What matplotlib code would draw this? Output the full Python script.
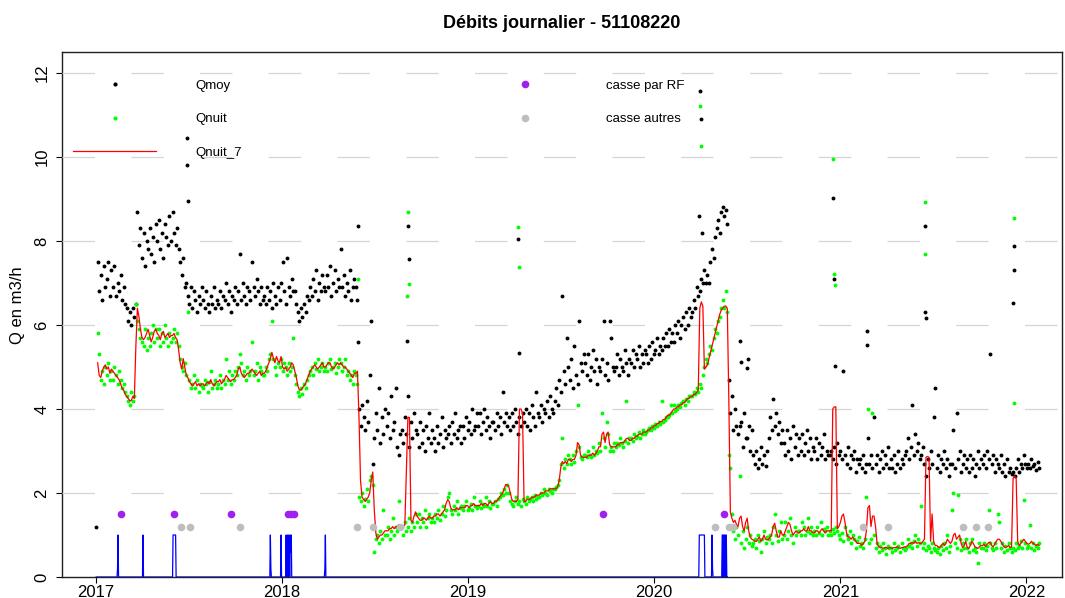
import numpy as np
import pandas as pd
import matplotlib
matplotlib.use("Agg")
import matplotlib.pyplot as plt
import matplotlib.dates as mdates
from matplotlib.lines import Line2D

plt.rcParams["font.family"] = ["Liberation Sans", "DejaVu Sans"]

nan = np.nan

# debits journaliers, un releve tous les 3 jours a partir du 01/01/2017
qmoy = [
    1.2, 7.5, 6.8, 7.2, 6.6, 7.4, 6.9, 7.1, 7.5, 6.7,
    7.3, 6.9, 7.4, 6.7, 7.0, 6.8, 7.2, 6.6, 6.9, 6.5,
    6.4, 6.1, 6.3, 6.0, 6.4, 6.2, 6.5, 8.7, 7.9, 8.3,
    7.6, 8.2, 7.4, 8.0, 7.8, 8.3, 7.7, 8.1, 7.5, 8.4,
    8.0, 8.5, 7.8, 8.2, 7.6, 8.4, 8.1, 7.9, 8.6, 8.0,
    8.7, 8.2, 7.9, 8.3, 7.8, 7.5, 7.2, 7.6, 6.9, 7.0,
    6.7, 6.5, 6.9, 6.4, 6.8, 6.6, 6.3, 6.7, 6.5, 6.9,
    6.6, 6.4, 6.8, 6.5, 6.3, 6.7, 6.5, 6.9, 6.4, 6.6,
    6.5, 6.8, 6.4, 6.7, 6.6, 7.0, 6.5, 6.8, 6.3, 6.7,
    6.6, 6.9, 6.5, 6.8, 7.7, 6.6, 7.0, 6.7, 6.5, 6.9,
    6.8, 6.6, 7.5, 6.9, 6.7, 7.1, 6.8, 6.5, 6.9, 6.6,
    6.7, 6.5, 6.9, 6.6, 6.8, 6.4, 7.0, 6.7, 6.5, 6.9,
    6.6, 7.0, 7.5, 6.8, 6.5, 7.6, 6.9, 6.7, 7.1, 6.8,
    6.8, 6.5, 6.3, 6.1, 6.4, 6.2, 6.5, 6.3, 6.7, 6.6,
    6.9, 6.7, 7.1, 6.8, 7.3, 6.6, 7.0, 6.8, 7.2, 6.9,
    6.8, 7.2, 6.9, 7.4, 6.7, 7.0, 7.3, 6.8, 7.1, 6.9,
    7.8, 6.9, 7.2, 6.7, 7.0, 6.8, 7.3, 6.6, 6.9, 7.1,
    6.9, 6.6, 4.0, 3.6, 4.1, 3.8, 3.5, 4.2, 3.7, 4.8,
    6.1, 2.7, 3.3, 3.9, 3.5, 4.5, 3.2, 3.8, 3.4, 4.0,
    3.6, 3.9, 3.3, 4.3, 3.5, 3.7, 4.5, 3.1, 2.9, 3.4,
    3.5, 3.2, 3.8, 3.4, 4.3, 3.1, 3.7, 3.3, 3.9, 3.5,
    3.4, 3.1, 3.7, 3.2, 3.5, 3.0, 3.6, 3.3, 3.9, 3.2,
    3.5, 3.3, 3.0, 3.6, 3.2, 3.4, 3.8, 3.1, 3.5, 3.3,
    3.4, 3.6, 3.2, 3.7, 3.4, 3.9, 3.3, 3.5, 3.6, 3.2,
    3.6, 3.3, 3.8, 3.5, 3.7, 3.4, 4.0, 3.5, 3.6, 3.9,
    3.6, 3.9, 3.4, 3.7, 4.0, 3.5, 3.8, 3.6, 3.3, 3.7,
    3.7, 3.5, 3.9, 3.6, 3.8, 3.4, 4.4, 3.7, 3.9, 3.6,
    3.8, 3.5, 3.9, 3.6, 4.0, 3.7, 3.4, 3.8, 3.6, 3.9,
    3.7, 4.0, 3.6, 3.9, 3.5, 4.1, 3.8, 3.6, 4.4, 3.9,
    3.8, 4.1, 3.7, 4.0, 3.9, 4.2, 3.8, 4.3, 4.0, 3.9,
    4.2, 4.5, 4.1, 4.7, 4.4, 6.7, 4.9, 4.6, 5.7, 5.0,
    4.7, 5.2, 4.5, 5.5, 4.8, 4.6, 6.1, 5.1, 4.9, 5.3,
    5.1, 4.8, 5.3, 4.7, 5.0, 5.4, 4.9, 5.2, 4.6, 5.0,
    4.9, 5.2, 6.1, 4.8, 5.1, 4.7, 6.1, 5.7, 5.0, 4.9,
    5.0, 5.3, 4.8, 5.2, 5.0, 4.9, 5.4, 5.1, 4.8, 5.2,
    5.1, 5.4, 5.0, 5.3, 5.2, 5.5, 5.0, 5.3, 5.1, 5.4,
    5.3, 5.1, 5.5, 5.2, 5.6, 5.3, 5.4, 5.7, 5.3, 5.5,
    5.4, 5.7, 5.5, 5.8, 5.5, 5.9, 5.6, 5.8, 5.6, 6.0,
    5.8, 6.1, 5.7, 6.0, 6.2, 5.9, 6.3, 6.0, 6.4, 6.2,
    6.3, 6.6, 6.4, 6.9, 6.7, 6.8, 7.1, 7.0, 7.3, 7.0,
    7.2, 7.0, 7.5, 7.8, 7.6, 8.1, 8.3, 8.5, 8.2, 8.7,
    8.8, 8.6, 8.75, 8.4, 4.7, 3.9, 4.3, 3.5, 4.0, 3.6,
    3.4, 3.6, 3.7, 3.1, 3.9, 3.3, 3.3, 3.6, 3.0, 3.5,
    2.9, 2.7, 3.0, 2.6, 2.8, 3.1, 2.7, 2.9, 2.65, 3.0,
    3.3, 3.8, 3.5, 4.25, 3.6, 3.9, 3.4, 3.7, 3.2, 3.5,
    3.2, 2.9, 3.5, 3.0, 3.3, 2.8, 3.6, 3.1, 3.4, 2.9,
    3.3, 3.0, 3.4, 2.9, 3.2, 3.5, 3.0, 3.3, 2.8, 3.1,
    3.0, 3.3, 2.8, 3.2, 2.9, 3.1, 3.4, 2.8, 3.0, 2.9,
    2.9, 3.0, 2.8, 3.1, 2.7, 3.2, 2.9, 3.0, 2.8, 4.9,
    2.9, 2.7, 3.1, 2.6, 2.9, 2.8, 3.0, 2.5, 2.8, 2.7,
    2.8, 2.6, 2.9, 2.5, 2.7, 3.3, 2.7, 2.9, 2.6, 3.8,
    2.7, 2.9, 2.5, 2.8, 3.0, 2.6, 2.9, 2.7, 3.1, 2.6,
    2.8, 2.6, 2.9, 2.5, 2.7, 3.0, 2.6, 2.8, 2.7, 2.9,
    3.0, 3.3, 2.8, 3.1, 4.1, 2.9, 3.4, 3.0, 3.2, 2.8,
    2.9, 3.1, 2.7, 2.4, 2.8, 2.6, 3.0, 2.7, 3.8, 4.5,
    2.6, 2.9, 2.5, 2.8, 2.7, 3.0, 2.6, 2.8, 2.4, 2.7,
    2.7, 3.5, 2.6, 3.9, 2.8, 3.0, 2.5, 2.7, 2.9, 2.6,
    2.8, 2.5, 2.9, 2.6, 2.8, 2.4, 2.7, 3.0, 2.6, 2.8,
    2.7, 2.9, 2.6, 3.0, 2.8, 5.3, 2.7, 2.9, 2.5, 2.8,
    2.7, 2.6, 2.9, 2.5, 2.7, 2.4, 2.8, 2.5, 2.6, 2.45,
    2.5, 2.4, 2.6, 2.8, 2.5, 2.7, 2.6, 2.9, 2.7, 2.6,
    2.7, 2.6, 2.8, 2.65, 2.7, 2.55, 2.75, 2.6,
]

qnuit = [
    nan, 5.8, 5.3, 4.7, 4.9, 4.6, 5.0, 4.8, 5.1, 4.7,
    4.9, 4.7, 5.0, 4.8, 4.6, 4.9, 4.7, 4.5, 4.6, 4.4,
    4.3, 4.2, 4.1, 4.4, 4.2, 4.3, 6.5, 6.1, 5.9, 5.7,
    5.6, 5.5, 5.9, 5.4, 5.7, 5.5, 5.8, 6.0, 5.6, 5.9,
    5.7, 5.9, 5.5, 5.8, 5.6, 6.0, 5.7, 5.5, 5.8, 5.6,
    5.7, 5.9, 5.6, 5.8, 5.5, 5.2, 5.0, 4.9, 5.1, 4.8,
    6.3, 4.7, 4.5, 4.6, 4.8, 4.5, 4.7, 4.4, 4.6, 4.55,
    4.5, 4.7, 4.6, 4.4, 4.65, 4.9, 4.5, 4.6, 4.7, 4.5,
    4.6, 4.8, 4.5, 4.7, 4.6, 5.2, 4.7, 4.9, 4.6, 4.8,
    4.7, 4.9, 4.8, 5.0, 5.3, 5.1, 4.8, 4.9, 4.7, 5.0,
    4.8, 4.9, 5.6, 4.8, 4.9, 5.1, 4.7, 5.0, 4.9, 4.8,
    4.8, 5.0, 4.9, 5.2, 5.3, 6.1, 5.2, 5.0, 4.8, 5.1,
    5.0, 5.2, 4.9, 5.1, 5.0, 4.8, 5.1, 4.9, 5.0, 5.7,
    4.8, 4.6, 4.4, 4.3, 4.5, 4.35, 4.6, 4.5, 4.7, 4.8,
    4.9, 5.0, 4.8, 5.1, 4.95, 5.2, 4.9, 5.0, 5.1, 4.9,
    5.0, 4.9, 5.1, 5.2, 4.95, 5.0, 5.1, 4.85, 5.0, 5.2,
    5.1, 4.9, 5.0, 5.2, 4.8, 4.9, 4.7, 4.8, 4.6, 4.9,
    4.8, 4.6, 1.9, 1.8, 2.0, 1.7, 1.85, 2.1, 1.8, 2.3,
    2.4, 2.2, 0.6, 0.9, 1.0, 0.8, 1.1, 0.9, 1.6, 1.0,
    1.0, 1.2, 0.9, 1.1, 1.4, 1.0, 1.2, 1.1, 1.8, 1.2,
    1.2, 1.0, 1.3, 1.1, 1.2, 1.4, 1.1, 1.3, 1.2, 1.5,
    1.3, 1.5, 1.2, 1.4, 1.3, 1.6, 1.2, 1.4, 1.5, 1.3,
    1.4, 1.3, 1.5, 1.4, 1.6, 1.35, 1.5, 1.7, 1.45, 1.6,
    1.9, 2.0, 1.6, 1.5, 1.7, 1.6, 1.8, 1.5, 1.65, 1.7,
    1.6, 1.7, 1.8, 1.6, 1.65, 1.75, 1.6, 1.9, 1.7, 1.65,
    1.7, 1.8, 1.65, 1.75, 1.7, 1.9, 1.7, 1.8, 1.65, 1.75,
    1.75, 1.8, 1.7, 1.85, 1.9, 2.0, 1.95, 2.1, 2.0, 2.2,
    2.0, 1.8, 1.75, 1.7, 1.8, 1.9, 1.75, 1.8, 1.7, 1.85,
    1.8, 1.75, 1.9, 1.8, 1.85, 1.9, 1.8, 1.95, 1.85, 1.9,
    1.9, 2.0, 1.95, 2.1, 2.0, 1.95, 2.1, 2.05, 2.0, 2.1,
    2.1, 2.15, 2.2, 2.3, 2.7, 3.3, 2.6, 2.8, 2.7, 2.9,
    2.8, 2.7, 2.9, 2.75, 3.0, 4.1, 3.1, 2.85, 2.8, 2.9,
    2.9, 2.85, 3.0, 2.9, 2.85, 3.1, 2.9, 3.0, 2.95, 3.2,
    3.0, 3.9, 3.3, 3.1, 3.7, 3.4, 3.0, 3.1, 3.0, 3.2,
    3.1, 3.2, 3.15, 3.3, 3.2, 3.1, 3.25, 4.2, 3.2, 3.3,
    3.3, 3.25, 3.4, 3.3, 3.35, 3.45, 3.3, 3.4, 3.5, 3.4,
    3.45, 3.5, 3.55, 3.5, 3.6, 3.55, 3.65, 3.6, 3.7, 3.65,
    4.2, 3.7, 3.75, 3.8, 3.8, 3.85, 4.1, 3.9, 4.1, 3.95,
    4.0, 4.1, 4.05, 4.15, 4.2, 4.1, 4.25, 4.2, 4.3, 4.3,
    4.3, 4.4, 4.35, 4.5, 4.4, 4.6, 4.5, 4.8, 5.0, 5.2,
    5.1, 5.3, 5.5, 5.4, 5.7, 5.9, 5.8, 6.1, 6.2, 6.4,
    6.6, 6.4, 6.8, 6.3, 2.9, 2.6, 1.5, 1.1, 0.9, 1.2,
    1.0, 2.4, 0.8, 1.1, 0.7, 0.9, 1.2, 0.8, 1.0, 0.75,
    0.8, 0.9, 0.7, 1.0, 0.85, 0.6, 0.9, 1.1, 0.8, 0.95,
    0.9, 1.0, 0.8, 1.2, 1.5, 1.0, 0.85, 1.1, 1.3, 0.9,
    1.0, 1.3, 0.9, 1.1, 1.4, 1.0, 0.8, 1.2, 1.0, 1.1,
    1.1, 1.0, 1.3, 1.2, 1.0, 1.1, 1.4, 1.05, 1.2, 1.0,
    1.1, 1.0, 1.2, 1.05, 1.3, 1.0, 1.15, 1.1, 1.2, 1.0,
    1.1, 1.0, 1.15, 1.05, 1.2, 1.1, 1.0, 0.9, 1.05, 0.85,
    1.2, 1.0, 0.9, 1.1, 0.8, 1.0, 0.9, 0.7, 0.85, 0.95,
    0.75, 0.8, 0.7, 0.9, 1.9, 4.0, 0.8, 0.9, 3.9, 1.0,
    0.7, 0.8, 0.6, 0.75, 0.65, 0.8, 0.7, 0.55, 0.75, 0.7,
    0.7, 0.6, 0.8, 0.65, 0.7, 0.75, 0.6, 0.8, 0.7, 0.65,
    0.7, 0.9, 0.75, 0.8, 0.7, 0.85, 1.0, 0.75, 0.9, 0.8,
    1.7, 0.7, 0.8, 0.65, 0.75, 0.7, 0.6, 0.8, 0.7, 0.65,
    0.6, 0.7, 0.55, 0.75, 0.65, 0.8, 0.7, 1.0, 0.6, 0.75,
    1.6, 2.0, 0.8, 0.7, 1.96, 0.9, 0.65, 0.8, 0.7, 0.9,
    0.7, 0.6, 0.8, 0.9, 0.65, 0.7, 0.6, 0.33, 0.8, 0.7,
    0.7, 0.8, 0.65, 0.75, 1.6, 0.8, 0.7, 0.65, 0.8, 0.7,
    1.5, 1.3, 0.7, 0.8, 0.6, 0.75, 0.65, 0.8, 0.7, 0.6,
    0.7, 0.65, 0.8, 0.7, 0.75, 0.85, 0.7, 1.84, 0.8, 0.7,
    0.75, 1.25, 0.7, 0.8, 0.65, 0.75, 0.7, 0.8,
]

qnuit_7 = [
    nan, 5.1, 4.8, 4.75, 4.9, 5.0, 5.05, 4.95, 5.0, 4.85,
    4.95, 4.9, 4.85, 4.8, 4.75, 4.7, 4.6, 4.5, 4.45, 4.35,
    4.3, 4.25, 4.2, 4.2, 4.3, 4.25, 5.5, 6.4, 6.2, 5.9,
    5.7, 5.65, 5.7, 5.8, 5.9, 5.75, 5.6, 5.7, 5.85, 5.9,
    5.8, 5.75, 5.65, 5.8, 5.85, 5.7, 5.75, 5.8, 5.7, 5.75,
    5.75, 5.8, 5.7, 5.65, 5.4, 5.1, 4.95, 5.2, 5.0, 4.8,
    4.75, 4.65, 4.6, 4.55, 4.6, 4.65, 4.55, 4.6, 4.55, 4.6,
    4.6, 4.55, 4.6, 4.65, 4.6, 4.7, 4.6, 4.55, 4.6, 4.65,
    4.65, 4.7, 4.6, 4.65, 4.7, 4.8, 4.75, 4.7, 4.65, 4.7,
    4.7, 4.75, 4.8, 4.95, 5.0, 4.85, 4.8, 4.75, 4.8, 4.85,
    4.85, 4.9, 4.95, 4.9, 4.85, 4.8, 4.85, 4.9, 4.8, 4.85,
    4.85, 4.9, 5.0, 5.1, 5.2, 5.35, 5.2, 5.1, 5.25, 5.15,
    5.1, 5.25, 5.0, 4.95, 5.0, 4.9, 4.95, 5.0, 5.1, 5.05,
    4.9, 4.75, 4.55, 4.45, 4.45, 4.5, 4.55, 4.6, 4.7, 4.8,
    4.9, 4.95, 5.0, 5.05, 5.0, 4.95, 5.0, 5.05, 5.1, 5.0,
    5.0, 5.05, 5.1, 5.1, 5.0, 4.95, 5.0, 5.05, 5.1, 5.05,
    5.1, 5.05, 5.0, 5.0, 4.95, 4.9, 4.85, 4.8, 4.75, 4.85,
    4.85, 4.9, 3.8, 2.3, 1.9, 1.85, 1.8, 1.85, 1.9, 2.0,
    2.3, 2.5, 1.6, 1.05, 0.9, 0.95, 1.0, 1.0, 1.05, 1.1,
    1.1, 1.1, 1.15, 1.15, 1.2, 1.15, 1.2, 1.2, 1.25, 1.2,
    1.2, 1.2, 1.25, 2.5, 3.8, 3.8, 1.35, 1.3, 1.45, 1.55,
    1.45, 1.4, 1.35, 1.35, 1.4, 1.4, 1.35, 1.4, 1.45, 1.4,
    1.4, 1.45, 1.45, 1.5, 1.5, 1.45, 1.5, 1.55, 1.6, 1.75,
    1.84, 1.8, 1.65, 1.6, 1.6, 1.6, 1.65, 1.6, 1.65, 1.65,
    1.65, 1.65, 1.7, 1.7, 1.65, 1.7, 1.7, 1.75, 1.7, 1.7,
    1.7, 1.7, 1.75, 1.7, 1.75, 1.75, 1.7, 1.75, 1.8, 1.75,
    1.75, 1.8, 1.8, 1.85, 1.9, 1.95, 2.0, 2.1, 2.2, 2.2,
    2.15, 2.0, 1.85, 1.8, 1.8, 1.8, 1.85, 4.0, 4.0, 3.9,
    1.8, 1.8, 1.85, 1.85, 1.85, 1.9, 1.9, 1.9, 1.95, 1.95,
    1.95, 2.0, 2.0, 2.0, 2.05, 2.05, 2.05, 2.1, 2.1, 2.1,
    2.1, 2.1, 2.15, 2.3, 2.6, 2.75, 2.7, 2.75, 2.7, 2.8,
    2.8, 2.75, 2.8, 2.8, 2.9, 3.2, 3.15, 2.9, 2.85, 2.85,
    2.85, 2.85, 2.9, 2.9, 2.9, 2.95, 2.9, 2.95, 3.0, 3.1,
    3.1, 3.4, 3.45, 3.2, 3.4, 3.45, 3.15, 3.1, 3.1, 3.1,
    3.1, 3.15, 3.15, 3.2, 3.2, 3.2, 3.25, 3.3, 3.3, 3.25,
    3.25, 3.3, 3.3, 3.35, 3.35, 3.4, 3.4, 3.4, 3.45, 3.45,
    3.45, 3.5, 3.5, 3.55, 3.55, 3.6, 3.6, 3.65, 3.65, 3.7,
    3.7, 3.75, 3.75, 3.8, 3.85, 3.85, 3.9, 3.95, 4.0, 4.0,
    4.05, 4.05, 4.1, 4.1, 4.15, 4.15, 4.2, 4.25, 4.25, 4.3,
    4.3, 4.35, 4.35, 4.4, 4.45, 6.4, 6.55, 6.45, 4.95, 5.0,
    5.05, 5.2, 5.35, 5.5, 5.65, 5.8, 5.95, 6.1, 6.25, 6.35,
    6.4, 6.45, 6.45, 6.4, 4.2, 1.55, 1.4, 1.3, 1.35, 1.25,
    1.2, 1.4, 1.45, 1.2, 1.1, 1.3, 1.4, 1.1, 0.95, 0.9,
    0.88, 0.85, 0.85, 0.9, 0.95, 0.85, 0.9, 1.0, 0.9, 0.88,
    0.9, 0.95, 1.0, 1.2, 1.28, 1.1, 0.95, 0.95, 1.1, 1.0,
    1.0, 1.1, 1.2, 1.3, 1.25, 1.1, 1.0, 1.05, 1.1, 1.05,
    1.05, 1.1, 1.1, 1.15, 1.1, 1.1, 1.2, 1.1, 1.1, 1.05,
    1.05, 1.1, 1.1, 1.05, 1.1, 1.15, 1.1, 1.05, 1.1, 1.1,
    1.1, 1.1, 4.0, 4.05, 4.05, 1.15, 1.2, 1.3, 1.45, 1.5,
    1.3, 1.05, 0.95, 0.95, 0.9, 0.95, 0.9, 0.85, 0.8, 0.8,
    0.8, 0.75, 0.8, 0.85, 1.1, 1.65, 1.7, 1.2, 1.45, 1.45,
    1.2, 0.8, 0.72, 0.7, 0.7, 0.68, 0.7, 0.7, 0.68, 0.7,
    0.7, 0.68, 0.7, 0.7, 0.72, 0.7, 0.68, 0.7, 0.7, 0.72,
    0.72, 0.75, 0.8, 0.8, 0.82, 0.8, 0.85, 0.8, 0.82, 0.8,
    0.8, 0.85, 0.9, 2.85, 2.87, 2.85, 0.85, 1.5, 0.85, 0.75,
    0.75, 0.72, 0.7, 0.75, 0.8, 0.75, 0.8, 0.9, 0.85, 0.8,
    0.85, 1.0, 1.04, 0.9, 0.95, 1.0, 0.8, 0.7, 0.75, 0.85,
    0.7, 0.68, 0.75, 0.85, 0.8, 0.72, 0.7, 0.68, 0.72, 0.75,
    0.75, 0.78, 0.72, 0.78, 0.82, 0.83, 0.75, 0.72, 0.78, 0.85,
    0.9, 0.9, 0.85, 0.78, 0.72, 0.7, 0.72, 0.75, 0.7, 0.72,
    2.35, 2.4, 2.35, 0.85, 0.75, 0.8, 0.85, 0.9, 0.85, 0.8,
    0.78, 0.8, 0.85, 0.8, 0.78, 0.75, 0.78, 0.75,
]

# jours isoles a fort debit
pics_moy_dates = [
    "2017-06-28", "2017-06-29", "2017-07-01", "2018-05-30", "2018-05-31",
    "2018-09-04", "2018-09-06", "2018-09-07", "2019-04-10", "2019-04-11",
    "2020-03-30", "2020-04-01", "2020-04-02", "2020-04-04", "2020-06-18",
    "2020-06-19", "2020-07-01", "2020-07-03", "2020-12-18", "2020-12-19",
    "2020-12-21", "2021-02-22", "2021-02-23", "2021-06-16", "2021-06-17",
    "2021-06-19", "2021-12-05", "2021-12-07", "2021-12-08",
]
pics_moy = [
    10.45, 9.8, 8.95, 8.35, 5.6,
    5.62, 8.35, 7.56, 8.04, 5.33,
    8.59, 11.58, 10.9, 8.18, 5.62,
    5.12, 4.97, 5.2, 9.02, 7.1,
    5.02, 5.86, 5.53, 8.35, 6.3,
    6.17, 6.53, 7.87, 7.3,
]
pics_nuit_dates = [
    "2018-05-30", "2018-09-04", "2018-09-06", "2018-09-07", "2019-04-10",
    "2019-04-11", "2020-04-01", "2020-04-02", "2020-12-18", "2020-12-19",
    "2020-12-21", "2021-06-16", "2021-06-17", "2021-12-07", "2021-12-08",
]
pics_nuit = [
    7.1, 6.7, 8.7, 6.98, 8.33,
    7.37, 11.22, 10.26, 9.95, 7.22,
    6.96, 8.92, 7.68, 8.54, 4.14,
]

# casses
casse_rf_dates = [
    "2017-02-19", "2017-06-03", "2017-09-23", "2018-01-13",
    "2018-01-19", "2018-01-25", "2019-09-23", "2020-05-18",
]
casse_rf = [1.5, 1.5, 1.5, 1.5, 1.5, 1.5, 1.5, 1.5]
casse_autres_dates = [
    "2017-06-17", "2017-07-04", "2017-10-11", "2018-05-28", "2018-06-29",
    "2018-08-21", "2020-04-30", "2020-05-28", "2020-06-05", "2021-02-15",
    "2021-04-05", "2021-08-30", "2021-09-25", "2021-10-18",
]
casse_autres = [1.2] * len(casse_autres_dates)

# indicateur journalier (0 sauf les jours listes)
flag_dates = [
    "2017-02-12", "2017-02-13", "2017-04-03",
    "2017-06-01", "2017-06-02", "2017-06-03", "2017-06-04", "2017-06-05", "2017-06-06",
    "2017-12-09", "2017-12-10", "2017-12-30",
    "2018-01-09", "2018-01-11", "2018-01-12", "2018-01-14", "2018-01-15",
    "2018-01-17", "2018-01-18", "2018-01-19",
    "2018-03-26", "2018-03-27",
    "2020-03-30", "2020-03-31", "2020-04-01", "2020-04-02", "2020-04-03",
    "2020-04-04", "2020-04-05", "2020-04-06", "2020-04-07", "2020-04-08", "2020-04-09",
    "2020-04-24", "2020-04-25",
    "2020-05-14", "2020-05-15", "2020-05-17", "2020-05-19", "2020-05-20", "2020-05-22",
]
flag_values = [
    0.2, 1.0, 1.0,
    1.0, 1.0, 1.0, 1.0, 1.0, 1.0,
    1.0, 0.2, 1.0,
    1.0, 0.75, 1.0, 1.0, 0.65,
    1.0, 0.6, 1.0,
    0.2, 1.0,
    1.0, 1.0, 1.0, 1.0, 1.0,
    1.0, 1.0, 1.0, 1.0, 1.0, 1.0,
    1.0, 0.2,
    1.0, 1.0, 1.0, 1.0, 1.0, 1.0,
]

moy = pd.concat([
    pd.Series(qmoy, index=pd.date_range("2017-01-01", periods=len(qmoy), freq="3D")),
    pd.Series(pics_moy, index=pd.to_datetime(pics_moy_dates)),
]).sort_index()
nuit = pd.concat([
    pd.Series(qnuit, index=pd.date_range("2017-01-01", periods=len(qnuit), freq="3D")),
    pd.Series(pics_nuit, index=pd.to_datetime(pics_nuit_dates)),
]).sort_index()
nuit7 = pd.Series(qnuit_7, index=pd.date_range("2017-01-01", periods=len(qnuit_7), freq="3D"))

flag = pd.Series(0.0, index=pd.date_range("2017-01-01", "2020-05-24", freq="D"))
flag[pd.to_datetime(flag_dates)] = flag_values

fig = plt.figure(figsize=(10.65, 5.98), dpi=100)
ax = fig.add_axes([62 / 1065, 21 / 598, 1000 / 1065, 525 / 598])

ax.plot(moy.index, moy.values, "o", color="black", ms=2.8, mew=0, zorder=4)
ax.plot(nuit.index, nuit.values, "o", color="#00ff00", ms=2.8, mew=0, zorder=4)
ax.plot(nuit7.index, nuit7.values, color="red", lw=0.9, zorder=5)
ax.plot(flag.index, flag.values, color="blue", lw=0.9, zorder=5)
ax.plot(pd.to_datetime(casse_rf_dates), casse_rf, "o", color="#a020f0", ms=5.5, mew=0, zorder=6)
ax.plot(pd.to_datetime(casse_autres_dates), casse_autres, "o", color="#bebebe", ms=5.5, mew=0, zorder=6)

# grille horizontale en tirets
for y in range(0, 13, 2):
    ax.axhline(y, color="#d6d6d6", lw=0.9, linestyle=(0, (26, 29)), zorder=2.6)

ax.set_xlim(pd.Timestamp("2016-10-26"), pd.Timestamp("2022-03-12"))
ax.set_ylim(0, 12.5)
ax.set_yticks(range(0, 13, 2))
ax.xaxis.set_major_locator(mdates.YearLocator())
ax.xaxis.set_major_formatter(mdates.DateFormatter("%Y"))
ax.tick_params(axis="both", length=4, width=0.8, labelsize=12, color="black")
ax.tick_params(axis="x", pad=1.5)
ax.tick_params(axis="y", pad=5)
for lab in ax.get_yticklabels():
    lab.set_rotation(90)
    lab.set_va("center")
for sp in ax.spines.values():
    sp.set_linewidth(1.0)
    sp.set_color("#202020")

fig.text(562 / 1065, 1 - 23 / 598, "Débits journalier - 51108220",
         ha="center", va="center", fontsize=13, fontweight="bold")
fig.text(18 / 1065, 1 - 305 / 598, "Q en m3/h", rotation=90,
         ha="center", va="center", fontsize=12)

handles = [
    Line2D([], [], ls="none", marker="o", color="black", ms=3, mew=0),
    Line2D([], [], ls="none", marker="o", color="#00ff00", ms=3, mew=0),
    Line2D([], [], color="red", lw=0.9),
    Line2D([], [], ls="none", marker="o", color="#a020f0", ms=5.5, mew=0),
    Line2D([], [], ls="none", marker="o", color="#bebebe", ms=5.5, mew=0),
]
labels = ["Qmoy", "Qnuit", "Qnuit_7", "casse par RF", "casse autres"]
ax.legend(handles, labels, ncol=2, loc="upper left", bbox_to_anchor=(0.011, 0.947),
          frameon=False, fontsize=9.5, handlelength=6.3, handletextpad=3.0,
          columnspacing=18.3, labelspacing=1.6, borderpad=0, borderaxespad=0)

fig.savefig("out.png", dpi=100)
